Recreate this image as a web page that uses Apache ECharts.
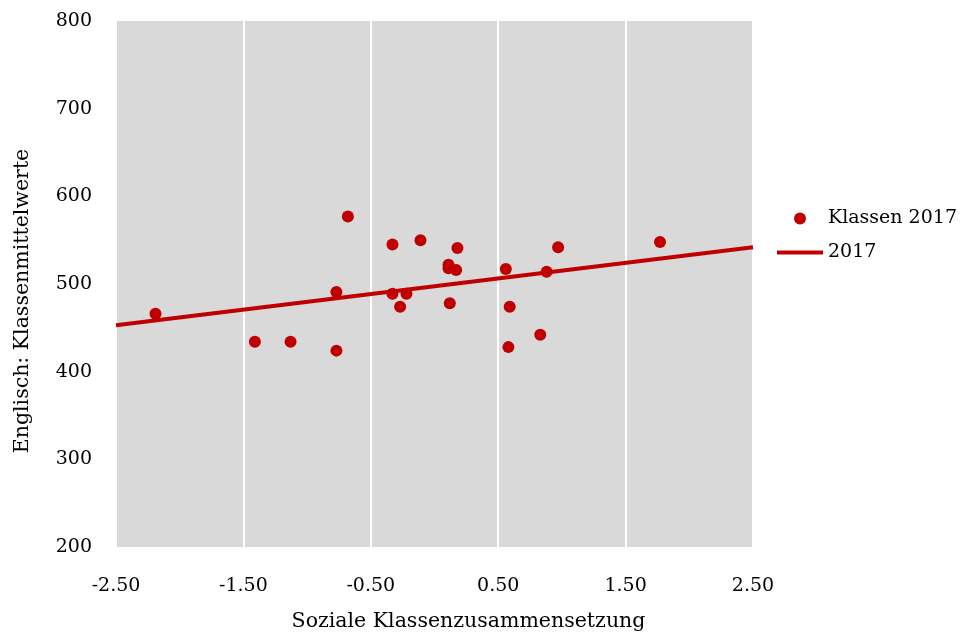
<!DOCTYPE html>
<html>
<head>
<meta charset="utf-8">
<script src="https://cdn.jsdelivr.net/npm/echarts@6/dist/echarts.min.js"></script>
<style>
  html, body { margin: 0; padding: 0; background: #ffffff; }
  #chart { width: 968px; height: 637px; }
</style>
</head>
<body>
<div id="chart"></div>
<script>
// Class composition index vs. class mean score in English, 2017
const socialComposition = [
  -2.19, -1.41, -1.13, -0.77, -0.77, -0.68, -0.33, -0.33, -0.27, -0.22,
  -0.11, 0.11, 0.11, 0.12, 0.17, 0.18, 0.56, 0.59, 0.58, 0.83,
  0.88, 0.97, 1.77
];
const classMeans = [
  466, 434, 434, 424, 491, 577, 545, 489, 474, 489,
  550, 522, 518, 478, 516, 541, 517, 474, 428, 442,
  514, 542, 548
];
// Linear trend line end points
const trendX = [-2.5, 2.5];
const trendY = [453, 542];

const xTickMin = -2.5, xTickMax = 2.5, xTickStep = 1;
const yTickMin = 200, yTickMax = 800, yTickStep = 100;

const seriesNames = ['Klassen 2017', '2017'];
const xAxisTitle = 'Soziale Klassenzusammensetzung';
const yAxisTitle = 'Englisch: Klassenmittelwerte';

const red = '#c00000';
const font = '"DejaVu Serif", "Liberation Serif", serif';

const scatterData = socialComposition.map((x, i) => [x, classMeans[i]]);
const trendData = trendX.map((x, i) => [x, trendY[i]]);

const chart = echarts.init(document.getElementById('chart'), null, { renderer: 'canvas' });
chart.setOption({
  animation: false,
  backgroundColor: '#ffffff',
  textStyle: { fontFamily: font, color: '#000' },
  grid: {
    left: 116, right: 215, top: 21, bottom: 88,
    show: true, backgroundColor: '#d9d9d9', borderWidth: 0
  },
  legend: {
    orient: 'vertical',
    left: 772, top: 204,
    itemWidth: 46, itemHeight: 12, itemGap: 15,
    textStyle: { fontFamily: font, fontSize: 19, color: '#000' },
    data: [
      { name: seriesNames[0], icon: 'circle' },
      // plain stroke for the trend line entry
      { name: seriesNames[1], icon: 'path://M0,0h46v4h-46z' }
    ]
  },
  xAxis: {
    type: 'value',
    min: xTickMin, max: xTickMax, interval: xTickStep,
    name: xAxisTitle, nameLocation: 'middle', nameGap: 64,
    nameTextStyle: { fontFamily: font, fontSize: 20.5, color: '#000', padding: [0, 0, 0, 68] },
    axisLine: { show: false },
    axisTick: { show: false },
    axisLabel: { fontFamily: font, fontSize: 19, color: '#000', margin: 30,
      formatter: v => v.toFixed(2) },
    splitLine: { show: true, lineStyle: { color: '#ffffff', width: 2 } }
  },
  yAxis: {
    type: 'value',
    min: yTickMin, max: yTickMax, interval: yTickStep,
    name: yAxisTitle, nameLocation: 'middle', nameGap: 83,
    nameTextStyle: { fontFamily: font, fontSize: 20.5, color: '#000', padding: [0, 34, 0, 0] },
    axisLine: { show: false },
    axisTick: { show: false },
    axisLabel: { fontFamily: font, fontSize: 19, color: '#000', margin: 24, padding: [5, 0, 0, 0] },
    splitLine: { show: false }
  },
  series: [
    {
      name: seriesNames[0],
      type: 'scatter',
      data: scatterData,
      symbol: 'circle',
      symbolSize: 12,
      itemStyle: { color: red, opacity: 1 },
      z: 2
    },
    {
      name: seriesNames[1],
      type: 'line',
      data: trendData,
      showSymbol: false,
      symbol: 'none',
      lineStyle: { color: red, width: 4 },
      itemStyle: { color: red },
      z: 3
    }
  ]
});
</script>
</body>
</html>
